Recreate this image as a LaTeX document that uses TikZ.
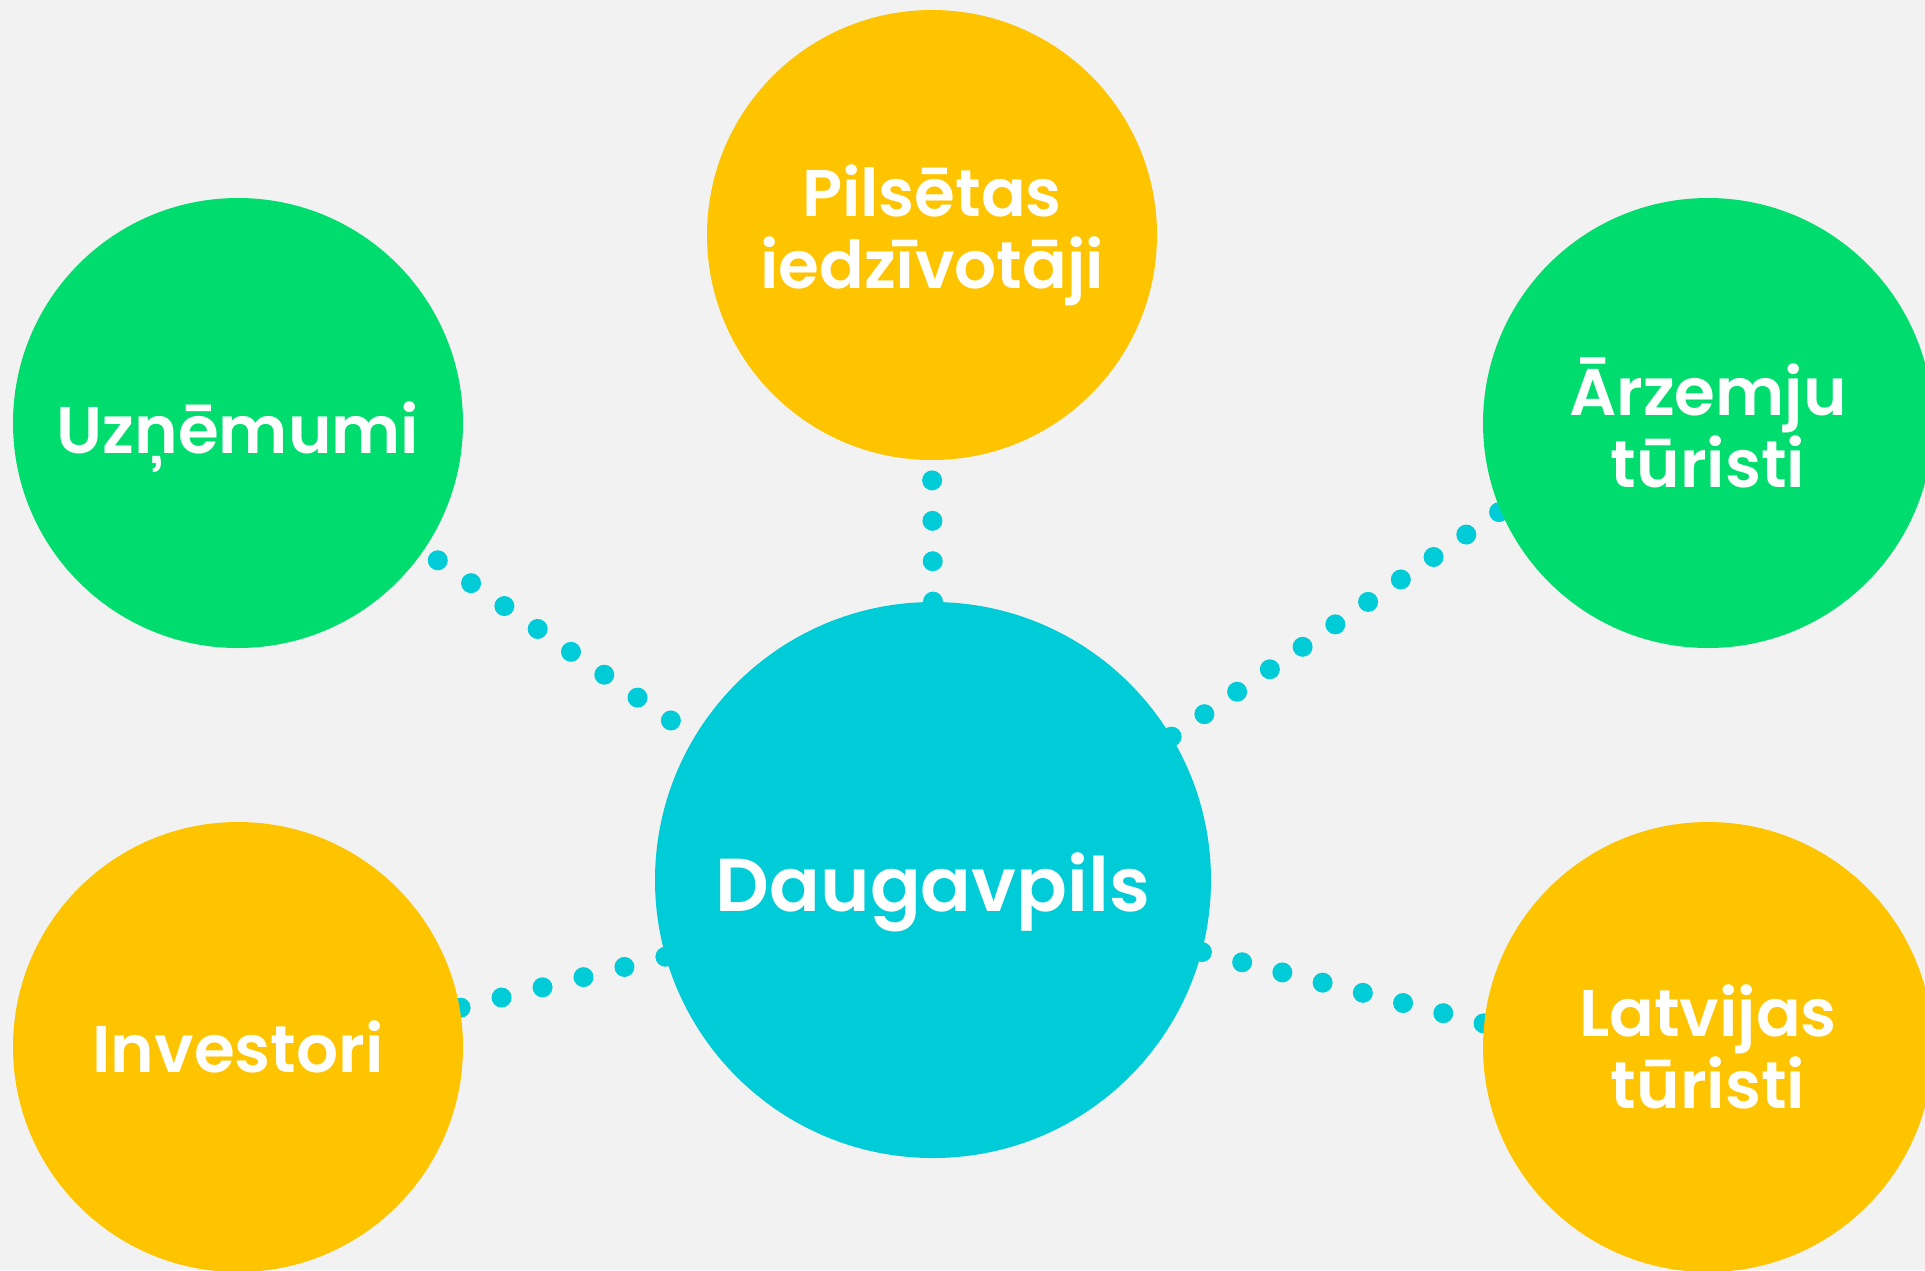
\documentclass[tikz,border=0pt]{standalone}
\usepackage{fontspec}
\setmainfont{Poppins}[Ligatures=NoCommon,BoldFont={Poppins SemiBold}]
\usetikzlibrary{backgrounds}
\definecolor{bggrey}{HTML}{F1F2F1}
\definecolor{dgreen}{HTML}{00DD6E}
\definecolor{dyellow}{HTML}{FFC400}
\definecolor{dcyan}{HTML}{00CCD8}
\tikzset{
  bubble/.style={circle,inner sep=0pt,minimum size=225pt,text=white,
    align=center,font=\bfseries\fontsize{33}{36}\selectfont},
  hub/.style={bubble,fill=dcyan,minimum size=278pt,
    font=\bfseries\fontsize{37.5}{40}\selectfont},
  oneline/.style={text height=#1,text depth=0pt},
  link/.style={draw=dcyan,line width=10pt,line cap=round,
    dash pattern=on 0pt off #1},
  link/.default=20.2pt
}
\begin{document}
\begin{tikzpicture}[x=0.5pt,y=-0.5pt]
      \useasboundingbox (0,0) rectangle (1925,1270);
      \clip (0,0) rectangle (1925,1270);
      \draw
        (933,880) node[hub,oneline=31pt] (dp){Daugavpils}
        (932,235) node[bubble,fill=dyellow] (pil){Pilsētas\\iedzīvotāji}
        (238,423) node[bubble,fill=dgreen,oneline=30pt] (uz){Uzņēmumi}
        (1708,423) node[bubble,fill=dgreen] (arz){Ārzemju\\tūristi}
        (238,1047) node[bubble,fill=dyellow] (inv){Investori}
        (1708,1047) node[bubble,fill=dyellow] (lat){Latvijas\\tūristi};
      \begin{scope}[on background layer]
        \fill[bggrey] (0,0) rectangle (1925,1270);
        \draw[link] (dp.90) to (pil.270);
        \draw[link] (uz.center) to (dp.149);
        \draw[link=19.85pt] (dp.31.5) to (arz.203);
        \draw[link=21.1pt] (dp.196) to (inv.10);
        \draw[link=20.75pt] (dp.-15) to (lat.174);
      \end{scope}
    \end{tikzpicture}
\end{document}
